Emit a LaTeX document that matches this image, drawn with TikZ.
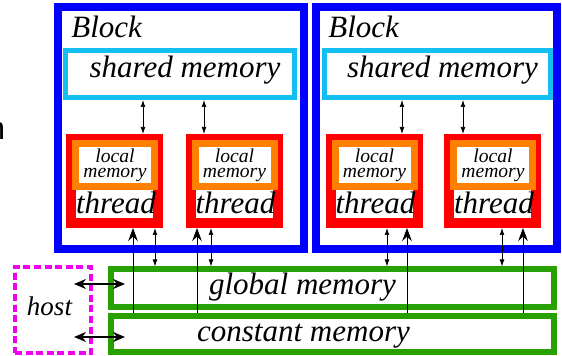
\documentclass[tikz,border=0pt]{standalone}
\usepackage{fontspec}
\setmainfont{Liberation Serif}
\newfontfamily\sansfont{Liberation Sans}
\usetikzlibrary{positioning,calc,arrows.meta}
\definecolor{blockblue}{RGB}{0,0,255}
\definecolor{sharedcyan}{RGB}{20,190,240}
\definecolor{threadred}{RGB}{255,0,0}
\definecolor{localorange}{RGB}{255,128,0}
\definecolor{memgreen}{RGB}{40,160,0}
\definecolor{hostpink}{RGB}{240,0,240}
\tikzset{
  blok/.style    = {draw=blockblue, line width=4pt, minimum height=121pt, inner sep=0},
  shared/.style  = {draw=sharedcyan, line width=2.5pt, minimum height=23.5pt, inner sep=0},
  thread/.style  = {draw=threadred, line width=5pt, minimum width=43.5pt, minimum height=42pt, inner sep=0},
  local/.style   = {draw=localorange, fill=white, line width=3.5pt, minimum width=39.5pt, minimum height=21.5pt,
                    inner sep=0, align=center, font=\fontsize{9.8}{7.6}\selectfont\itshape},
  mem/.style     = {draw=memgreen, line width=3pt, minimum width=221.25pt, inner sep=0},
  host/.style    = {draw=hostpink, line width=2pt, dash pattern=on 3.5pt off 1.8pt,
                    minimum width=38pt, minimum height=43pt, inner sep=0},
  big/.style     = {font=\fontsize{15.5}{18}\selectfont\itshape, inner sep=0},
  dbl/.style     = {{Latex[length=3.5pt,width=2.4pt]}-{Latex[length=3.5pt,width=2.4pt]}, line width=0.35pt},
  up/.style      = {-{Stealth[length=6.5pt,width=4.8pt]}, line width=0.5pt},
  hostarr/.style = {{Stealth[length=6pt,width=5pt]}-{Stealth[length=6pt,width=5pt]}, line width=1pt}
}
\begin{document}
\begin{tikzpicture}[x=0.5pt, y=-0.5pt]
  \useasboundingbox (0,0) rectangle (562,356);

  % blocks
  \node[blok, minimum width=123.25pt] (b1) at (180.75,128) {};
  \node[blok, minimum width=120.25pt] (b2) at (436.25,128) {};
  \node[big, anchor=base west] (bl1) at (71,38) {Block};
  \node[big, anchor=base west] (bl2) at (328,38) {Block};

  \node[shared, minimum width=114.5pt] (sm1) at (180,74) {};
  \node[shared, minimum width=113pt]   (sm2) at (437.5,74) {};
  \node[big, anchor=base] (smt1) at (185,78) {shared memory};
  \node[big, anchor=base] (smt2) at (442.5,78) {shared memory};

  % threads
  \foreach \t/\xx in {t11/114.5, t12/234, t21/374, t22/492.5}{
    \node[thread] (\t) at (\xx,181) {};
    \node[local] (l\t) at ($(\t)+(0.5,-16)$) {local\\memory};
    \node[big, anchor=base] (th\t) at ($(\t)+(1.5,33)$) {thread};
  }

  % memories
  \node[mem, minimum height=19pt]    (gm) at (332.25,288.5) {};
  \node[mem, minimum height=17.75pt] (cm) at (332.25,334.25) {};
  \node[big, anchor=base] (gmt) at (302.5,295) {global memory};
  \node[big, anchor=base] (cmt) at (303.5,342) {constant memory};

  \node[host] (hs) at (53,310) {};
  \node[font=\fontsize{13.5}{16}\selectfont\itshape, anchor=base, inner sep=0] (hst) at (49.5,316) {host};

  \node[font=\sansfont\fontsize{16}{18}\selectfont, anchor=base west, inner sep=0] (frag) at (-13,140) {n};

  % arrows
  \foreach \t/\s/\d in {t11/sm1/28.5, t12/sm1/-30, t21/sm2/28, t22/sm2/-29.5}{
    \coordinate (a) at ($(\t.north)+(\d,0)$);
    \draw[dbl] (a) -- (a |- \s.south);
  }
  \foreach \t/\d/\u in {t11/40.5/18.5, t12/-23/-37, t21/13/33, t22/9.5/30.5}{
    \coordinate (d) at ($(\t.south)+(\d,0)$);
    \coordinate (u) at ($(\t.south)+(\u,0)$);
    \draw[dbl] (d) -- (d |- gm.north);
    \draw[up] (u |- cm.north) -- (u);
  }
  \draw[hostarr] ($(hs.east |- gm.center)+(-19,-4.5)$) -- ($(gm.west)+(17,-4.5)$);
  \draw[hostarr] ($(hs.east |- cm.center)+(-19,2.75)$) -- ($(cm.west)+(17,2.75)$);

\end{tikzpicture}
\end{document}
